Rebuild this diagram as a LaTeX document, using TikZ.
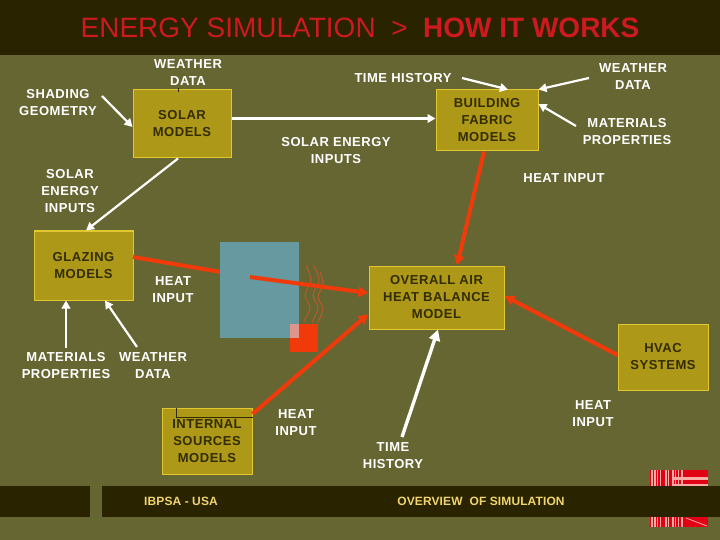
\documentclass[tikz,border=0pt]{standalone}
\usepackage{fontspec}
\setmainfont{Liberation Sans}
\newfontfamily\lblfont[LetterSpace=4]{Liberation Sans}
\newfontfamily\footfont[LetterSpace=1]{Liberation Sans}
\usetikzlibrary{arrows.meta,calc}
\definecolor{bgc}{RGB}{102,102,51}
\definecolor{darkc}{RGB}{41,35,0}
\definecolor{boxc}{RGB}{174,152,24}
\definecolor{boxe}{RGB}{226,200,48}
\definecolor{boxt}{RGB}{50,44,0}
\definecolor{titlec}{RGB}{204,26,30}
\definecolor{redl}{RGB}{240,58,10}
\definecolor{footc}{RGB}{240,212,110}
\definecolor{bluec}{RGB}{102,153,160}
\definecolor{wavec}{RGB}{190,90,40}
\definecolor{logoc}{RGB}{226,0,20}
\definecolor{logop}{RGB}{248,170,165}
\definecolor{overlapc}{RGB}{222,150,140}
\tikzset{
 x=1pt,y=-1pt,
 modelbox/.style={draw=boxe,line width=1pt,fill=boxc,text=boxt,inner sep=0pt,align=center,font=\lblfont\bfseries\fontsize{13}{17}\selectfont,anchor=center},
 lbl/.style={text=white,inner sep=0pt,align=center,font=\lblfont\bfseries\fontsize{13}{17}\selectfont,anchor=center},
 foot/.style={text=footc,inner sep=0pt,font=\footfont\bfseries\fontsize{12}{14}\selectfont,anchor=center},
 whitearrow/.style={draw=white,line width=2.2pt,-{Triangle[length=8pt,width=8.5pt]}},
 widearrow/.style={draw=white,line width=3.4pt,-{Triangle[length=11pt,width=11pt]}},
 redarrow/.style={draw=redl,line width=4pt,-{Triangle[length=10pt,width=10pt]}},
 redline/.style={draw=redl,line width=4pt},
 waveline/.style={draw=wavec,line width=0.9pt},
}
\begin{document}
\begin{tikzpicture}
\useasboundingbox (0,0) rectangle (720,540);
\fill[bgc] (0,0) rectangle (720,540);
\fill[darkc] (0,0) rectangle (720,55);
% logo
\fill[logoc] (650,470) rectangle (708,527);
\foreach \xx/\w in {651/1.5,654/1.5,657/1,660/1,665/1.5,668/1,672/2,675/1,678/1,681/1.5}{
 \fill[logop] (\xx,470) rectangle ++(\w,57);}
\fill[logop] (673,477) rectangle (708,480);
\fill[logop] (673,484) rectangle (708,486);
\draw[logop,line width=0.8pt] (686,518) -- (707,526);
% footer
\fill[darkc] (0,486) rectangle (90,517);
\fill[darkc] (102,486) rectangle (720,517);
\node[inner sep=0pt,font=\fontsize{28}{32}\selectfont,text=titlec] (title) at (360,28) {ENERGY SIMULATION\ \ >\ \ \textbf{HOW IT WORKS}};
% boxes
\node[modelbox,minimum width=98pt,minimum height=68pt] (solar) at (182,124) {SOLAR\\MODELS};
\node[modelbox,minimum width=102pt,minimum height=61pt] (fabric) at (487,120.5) {BUILDING\\FABRIC\\MODELS};
\node[modelbox,minimum width=99pt,minimum height=69pt] (glazing) at (83.5,265.5) {GLAZING\\MODELS};
\node[modelbox,minimum width=135pt,minimum height=63pt] (overall) at (436.5,297.5) {OVERALL AIR\\HEAT BALANCE\\MODEL};
\node[modelbox,minimum width=90pt,minimum height=66pt] (hvac) at (663,357) {HVAC\\SYSTEMS};
\node[modelbox,minimum width=90pt,minimum height=66pt] (internal) at (207,441) {INTERNAL\\SOURCES\\MODELS};
\coordinate (innerA) at (176,408);
\coordinate (innerB) at (176,417);
\draw[boxt,line width=0.6pt] (innerA) -- (innerB) -- (internal.east |- innerB);
% red line passing behind the window
\coordinate (glazeOut) at (133,257);
\coordinate (heatIn) at (250,277);
\draw[redline] (glazeOut) -- (heatIn);
% window, source, heat waves
\node[fill=bluec,inner sep=0pt,minimum width=79pt,minimum height=96pt] (window) at (259.5,290) {};
\node[fill=redl,inner sep=0pt,minimum width=28pt,minimum height=28pt] (source) at (304,338) {};
\fill[overlapc] (290,324) rectangle (299,338);
\draw[waveline] plot[smooth] coordinates {(306,265) (311,280) (305,295) (310,308) (304,321)};
\draw[waveline] plot[smooth] coordinates {(314,266) (319,280) (313,295) (318,308) (312,322)};
\draw[waveline] plot[smooth] coordinates {(320,272) (323,284) (318,297) (323,309) (318,322)};
% labels
\node[lbl] (wd1) at (188,72.5) {WEATHER\\DATA};
\node[lbl] (sg) at (58,102.5) {SHADING\\GEOMETRY};
\node[lbl] (se1) at (70,191) {SOLAR\\ENERGY\\INPUTS};
\node[lbl] (th1) at (403,78) {TIME HISTORY};
\node[lbl] (se2) at (336,150.5) {SOLAR ENERGY\\INPUTS};
\node[lbl] (wd2) at (633,77) {WEATHER\\DATA};
\node[lbl] (mp1) at (627,131.5) {MATERIALS\\PROPERTIES};
\node[lbl] (hi1) at (564,178) {HEAT INPUT};
\node[lbl] (hi2) at (173,289.5) {HEAT\\INPUT};
\node[lbl] (mp2) at (66,365.5) {MATERIALS\\PROPERTIES};
\node[lbl] (wd3) at (153,366) {WEATHER\\DATA};
\node[lbl] (hi3) at (296,422.5) {HEAT\\INPUT};
\node[lbl] (th2) at (393,456) {TIME\\HISTORY};
\node[lbl] (hi4) at (593,413.5) {HEAT\\INPUT};
\node[foot] (ib) at (181,501) {IBPSA - USA};
\node[foot] (ov) at (481,501) {OVERVIEW\ \ OF SIMULATION};
% white connectors
\coordinate (sgOut) at (102,96);
\coordinate (thOut) at (462,78);
\coordinate (wdOut) at (589,78);
\coordinate (mpOut) at (576,126);
\coordinate (mp2Out) at (66,348);
\coordinate (wd3Out) at (137,347);
\coordinate (th2Out) at (402,437);
\coordinate (wd1Out) at (178.5,88);
\draw[whitearrow] (sgOut) -- (solar.west |- 0,127);
\draw[draw=boxt,line width=1pt] (wd1Out) -- (178.5,92);
\draw[whitearrow] (solar.east |- 0,118.5) -- (fabric.west |- 0,118.5);
\draw[whitearrow] (solar.south -| 178,0) -- (glazing.north -| 86,0);
\draw[whitearrow] (thOut) -- (fabric.north -| 508,0);
\draw[whitearrow] (wdOut) -- (fabric.north east);
\draw[whitearrow] (mpOut) -- (fabric.east |- 0,104);
\draw[whitearrow] (mp2Out) -- (glazing.south -| 66,0);
\draw[whitearrow] (wd3Out) -- (glazing.south -| 105,0);
\draw[widearrow] (th2Out) -- (overall.south -| 438,0);
% red connectors
\draw[redarrow] (fabric.south -| 484,0) -- (overall.north -| 457,0);
\draw[redarrow] (heatIn) -- (overall.west |- 0,293);
\draw[redarrow] (internal.east |- 0,414) -- (overall.west |- 0,314);
\draw[redarrow] (hvac.west |- 0,355) -- (overall.east |- 0,296);
\end{tikzpicture}
\end{document}
